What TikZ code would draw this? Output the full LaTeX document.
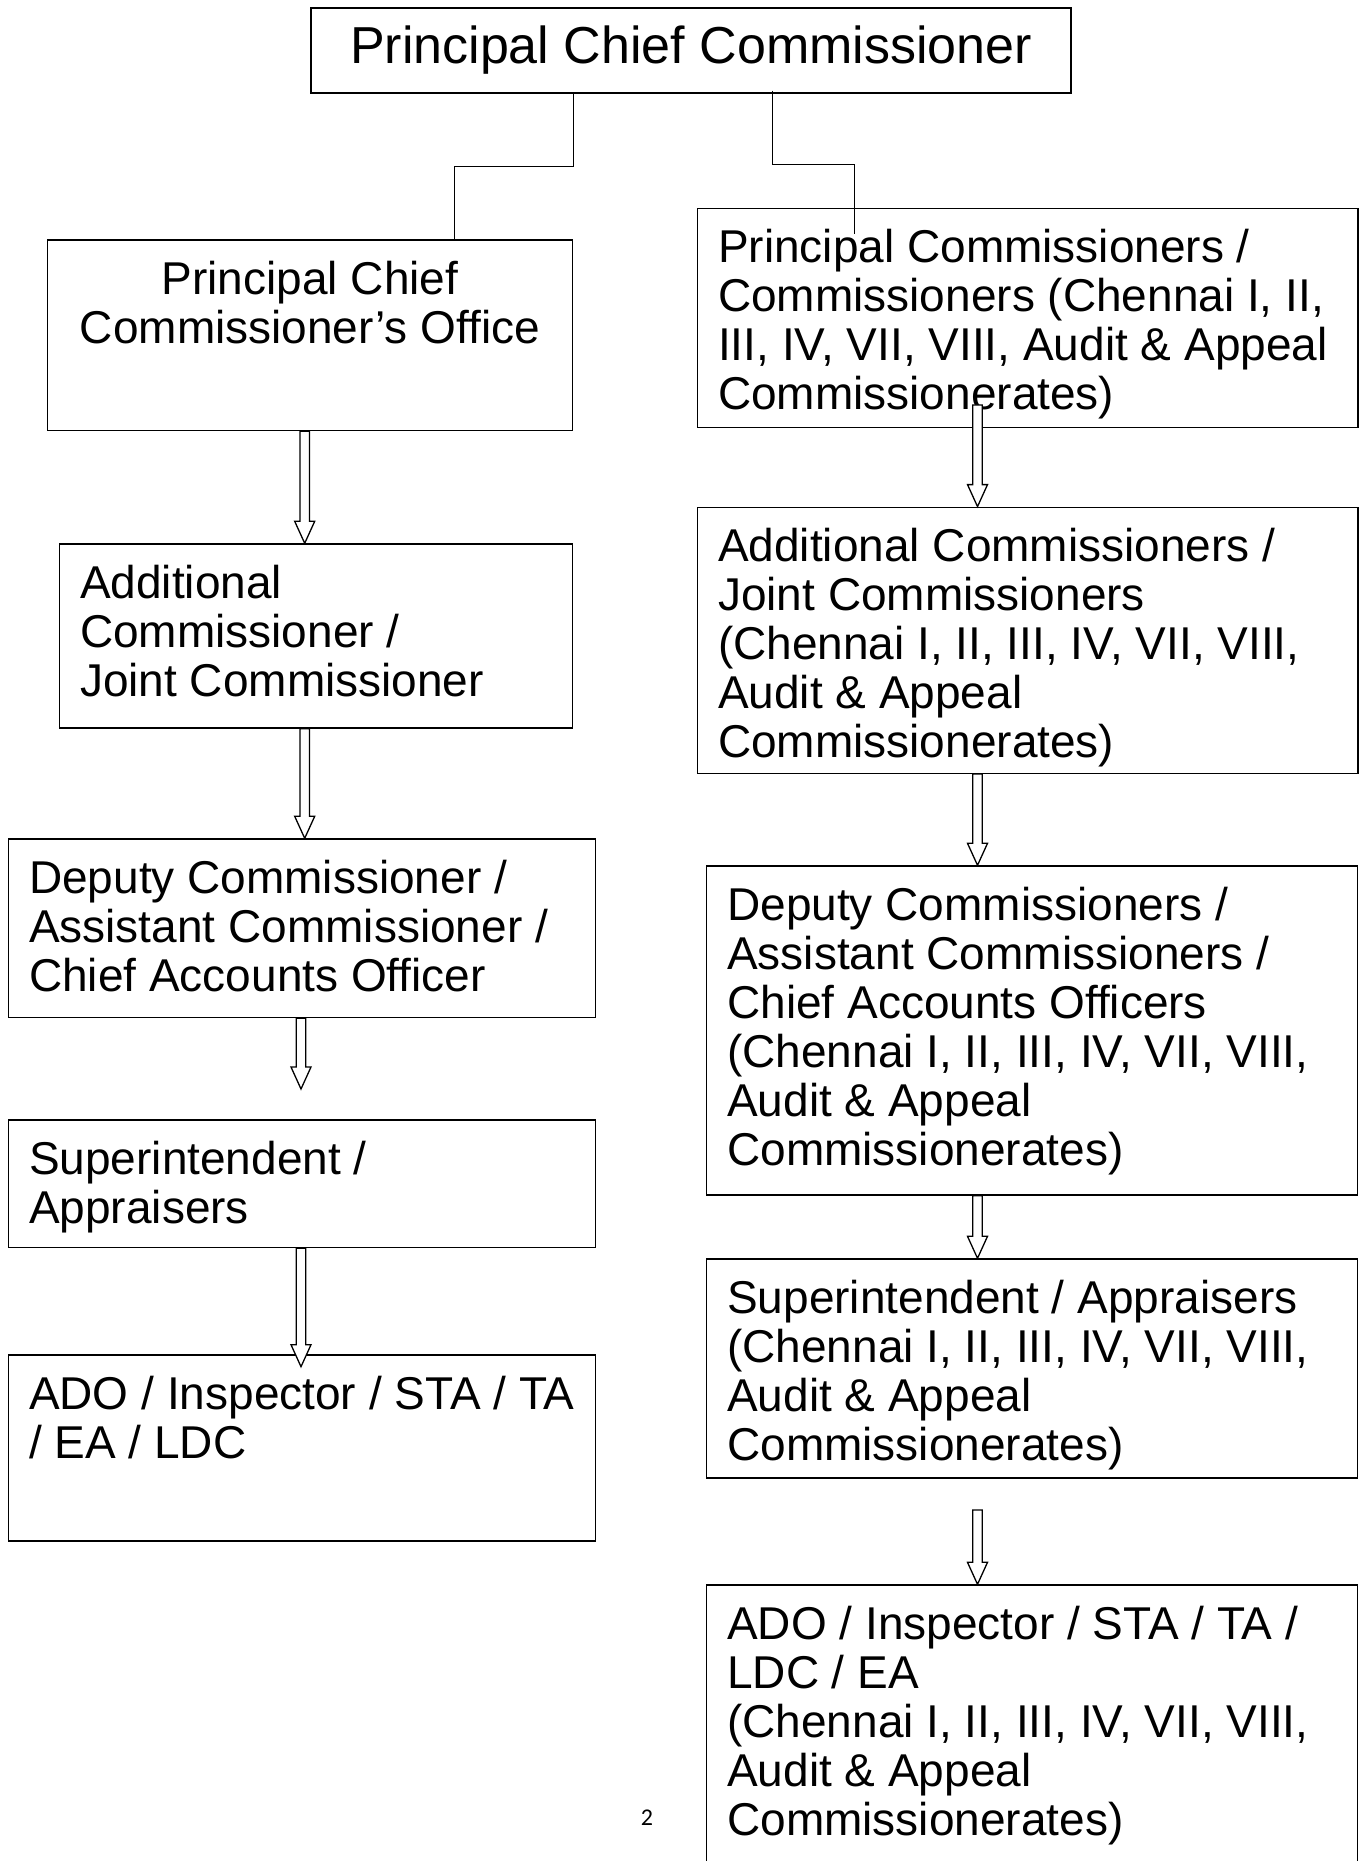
\documentclass[tikz,border=0pt]{standalone}
\usepackage{fontspec}
\setmainfont{Liberation Sans}
\newfontfamily\pagefont{Carlito}
\usetikzlibrary{calc,positioning}

% hollow down arrow from #1 to tip at #2
\newcommand{\hollowarrow}[2]{%
  \draw[arrowline] let \p1=(#1), \p2=(#2) in
    (\x1-2.4pt,\y1) -- (\x1-2.4pt,\y2+11pt) -- (\x1-5pt,\y2+11pt) -- (\x1,\y2)
    -- (\x1+5pt,\y2+11pt) -- (\x1+2.4pt,\y2+11pt) -- (\x1+2.4pt,\y1) -- cycle;}

\begin{document}
\begin{tikzpicture}[x=0.5pt,y=-0.5pt,
    box/.style={draw, line width=0.7pt, inner sep=0pt},
    boxtext/.style={anchor=north west, align=left, inner sep=10.5pt,
      font=\fontsize{23}{24.5}\selectfont},
    link/.style={line width=0.5pt},
    arrowline/.style={line width=0.65pt, fill=white}]
    \useasboundingbox (0,0) rectangle (1365,1861);

    % Top box
    \node[box, minimum width=380pt, minimum height=42.5pt,
      font=\fontsize{26}{30}\selectfont] (pcc) at (691,50.5) {Principal Chief Commissioner};

    % Left column
    \node[box, minimum width=262.5pt, minimum height=95.3pt,
      label={[boxtext, anchor=north, align=center]north:Principal Chief\\Commissioner’s Office}]
      (pco) at (310,335.3) {};
    \node[box, minimum width=256.6pt, minimum height=92pt,
      label={[boxtext]north west:Additional\\Commissioner /\\Joint Commissioner}]
      (acl) at (316,636) {};
    \node[box, minimum width=293.4pt, minimum height=89.3pt,
      label={[boxtext]north west:Deputy Commissioner /\\Assistant Commissioner /\\Chief Accounts Officer}]
      (dcl) at (301.8,928.3) {};
    \node[box, minimum width=293.4pt, minimum height=63.8pt,
      label={[boxtext]north west:Superintendent /\\Appraisers}]
      (supl) at (301.8,1183.8) {};
    \node[box, minimum width=293.4pt, minimum height=93pt,
      label={[boxtext]north west:ADO / Inspector / STA / TA\\/ EA / LDC}]
      (adol) at (301.8,1448) {};

    % Right column
    \node[box, minimum width=330.2pt, minimum height=109.7pt,
      label={[boxtext]north west:Principal Commissioners /\\Commissioners (Chennai I, II,\\III, IV, VII, VIII, Audit \& Appeal\\Commissionerates)}]
      (pc) at (1027.6,318) {};
    \node[box, minimum width=330.2pt, minimum height=133pt,
      label={[boxtext]north west:Additional Commissioners /\\Joint Commissioners\\(Chennai I, II, III, IV, VII, VIII,\\Audit \& Appeal\\Commissionerates)}]
      (acr) at (1027.6,640.3) {};
    \node[box, minimum width=325.5pt, minimum height=164.5pt,
      label={[boxtext]north west:Deputy Commissioners /\\Assistant Commissioners /\\Chief Accounts Officers\\(Chennai I, II, III, IV, VII, VIII,\\Audit \& Appeal\\Commissionerates)}]
      (dcr) at (1032,1030.5) {};
    \node[box, minimum width=325.5pt, minimum height=109.5pt,
      label={[boxtext]north west:Superintendent / Appraisers\\(Chennai I, II, III, IV, VII, VIII,\\Audit \& Appeal\\Commissionerates)}]
      (supr) at (1032,1368.5) {};
    \node[box, minimum width=325.5pt, minimum height=160pt,
      label={[boxtext]north west:ADO / Inspector / STA / TA /\\LDC / EA\\(Chennai I, II, III, IV, VII, VIII,\\Audit \& Appeal\\Commissionerates)}]
      (ador) at (1032,1745) {};

    % Page number
    \node[font=\pagefont\fontsize{12}{14}\selectfont] (pagenum) at (647,1818) {2};

    % Connectors from the top box
    \coordinate (lbend) at (454,166.7);
    \coordinate (rdrop) at (772.3,90.7);
    \coordinate (rbend) at (854,164.3);
    \coordinate (rend) at (854,234);
    \draw[link] (pcc.south -| pco.east) |- (lbend) -- (lbend |- pco.north);
    \draw[link] (rdrop) |- (rbend) -- (rend);

    % Hollow arrows
    \coordinate (colL) at (304.7,0);
    \coordinate (colLb) at (301,0);
    \coordinate (colR) at (977.5,0);
    \coordinate (l3tip) at (301,1089);
    \coordinate (l4tip) at (301,1366.7);
    \coordinate (r1top) at (977.5,405);
    \coordinate (r4top) at (977.5,1510);
    \foreach \a/\b in {pco.south -| colL/acl.north -| colL,
                       acl.south -| colL/dcl.north -| colL,
                       dcl.south -| colLb/l3tip,
                       supl.south -| colLb/l4tip,
                       r1top/acr.north -| colR,
                       acr.south -| colR/dcr.north -| colR,
                       dcr.south -| colR/supr.north -| colR,
                       r4top/ador.north -| colR} {
        \hollowarrow{\a}{\b}
    }
\end{tikzpicture}
\end{document}
